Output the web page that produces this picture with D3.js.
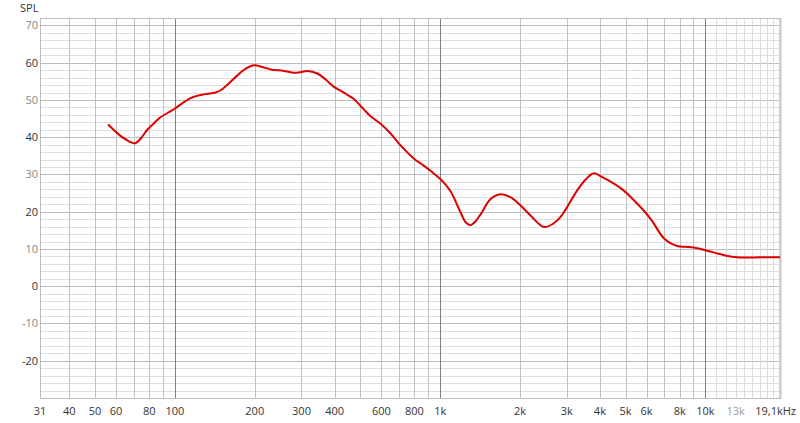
<!DOCTYPE html>
<html>
<head>
<meta charset="utf-8">
<script src="https://cdn.jsdelivr.net/npm/d3@7"></script>
<style>
  body { margin: 0; background: #fff; }
  svg text { font-family: "Open Sans", sans-serif; font-size: 11px; }
</style>
</head>
<body>
<svg id="chart"></svg>
<script>
// measured frequency response
let freqs = [56, 62, 66, 68.5, 71, 74.2, 78.7, 84, 88, 96.4, 100, 114.6, 128.6, 142.4, 148.7, 160, 171.9, 185, 198.6, 215, 229.5, 257.6, 281, 300, 315.6, 344.5, 370, 397.8, 421, 446.6, 473.4, 516.5, 546.5, 596, 650, 709, 795, 850, 919, 1003, 1050, 1100, 1194, 1250, 1300, 1350, 1420, 1549, 1689, 1840, 2000, 2190, 2460, 2680, 2843, 3013, 3290, 3550, 3800, 4100, 4500, 4900, 5300, 5840, 6300, 6970, 7820, 8400, 9030, 10450, 11100, 12000, 13200, 14900, 17000, 19100];
let spl = [43.4, 40.5, 39.2, 38.6, 38.4, 39.6, 42.0, 44.0, 45.3, 47.0, 47.7, 50.5, 51.5, 52.0, 52.6, 54.5, 56.6, 58.4, 59.3, 58.8, 58.2, 57.8, 57.3, 57.5, 57.8, 57.1, 55.5, 53.5, 52.5, 51.4, 50.2, 47.4, 45.6, 43.6, 41.0, 37.8, 34.3, 32.8, 31.0, 28.7, 27.2, 25.2, 19.8, 17.1, 16.4, 17.2, 19.3, 23.4, 24.7, 23.9, 21.8, 19.0, 15.9, 16.9, 18.6, 21.3, 25.8, 28.8, 30.3, 29.2, 27.6, 25.8, 23.5, 20.4, 17.5, 12.9, 10.8, 10.6, 10.4, 9.3, 8.8, 8.2, 7.8, 7.7, 7.8, 7.8];

let xTicks = [31, 40, 50, 60, 80, 100, 200, 300, 400, 600, 800, 1000, 2000, 3000, 4000, 5000, 6000, 8000, 10000, 13000, 19100];
let xLabels = ["31", "40", "50", "60", "80", "100", "200", "300", "400", "600", "800", "1k", "2k", "3k", "4k", "5k", "6k", "8k", "10k", "13k", "19,1kHz"];
let yTicks = [70, 60, 50, 40, 30, 20, 10, 0, -10, -20];

let width = 800, height = 423;
let margin = ({top: 18, right: 20, bottom: 25, left: 40});

let x = d3.scaleLog()
  .domain([31, 19100])
  .range([margin.left, width - margin.right]);

let y = d3.scaleLinear()
  .domain([-30, 72])
  .range([height - margin.bottom, margin.top]);

const svg = d3.select('#chart').attr('width', width).attr('height', height);

// horizontal grid, every 2 dB
let hLines = d3.range(-28, 72, 2);
svg.append('g').selectAll('line')
  .data(hLines)
  .join('line')
  .attr('x1', margin.left).attr('x2', width - margin.right)
  .attr('y1', d => Math.round(y(d)) + 0.5).attr('y2', d => Math.round(y(d)) + 0.5)
  .attr('stroke', d => d % 10 === 0 ? '#bdbdbd' : '#dedede')
  .attr('stroke-width', 1);

// vertical grid
let vLines = [];
[10, 100, 1000].forEach(dec => {
  for (let k = 1; k <= 9; k++) {
    let f = dec * k;
    if (f > 31) vLines.push(f);
  }
});
vLines.push(10000);
for (let k = 11; k <= 19; k++) vLines.push(k * 1000);

svg.append('g').selectAll('line')
  .data(vLines)
  .join('line')
  .attr('x1', d => Math.round(x(d)) + 0.5).attr('x2', d => Math.round(x(d)) + 0.5)
  .attr('y1', margin.top).attr('y2', height - margin.bottom)
  .attr('stroke', d => (d === 100 || d === 1000 || d === 10000) ? '#808080' : (d > 10000 ? '#dcdcdc' : '#c0c0c0'))
  .attr('stroke-width', 1);

// frame
svg.append('rect')
  .attr('x', margin.left + 0.5).attr('y', margin.top + 0.5)
  .attr('width', width - margin.left - margin.right)
  .attr('height', height - margin.top - margin.bottom)
  .attr('fill', 'none')
  .attr('stroke', '#bdbdbd');
svg.append('line')
  .attr('x1', width - margin.right + 0.5).attr('x2', width - margin.right + 0.5)
  .attr('y1', margin.top).attr('y2', height - margin.bottom)
  .attr('stroke', '#c8c8c8').attr('stroke-width', 2);

// y labels
svg.append('g').selectAll('text')
  .data(yTicks)
  .join('text')
  .attr('x', 38)
  .attr('y', d => y(d))
  .attr('dy', '0.36em')
  .attr('text-anchor', 'end')
  .attr('fill', d => d % 20 === 0 ? '#333' : '#888')
  .text(d => d);

// x labels
svg.append('g').selectAll('text')
  .data(xTicks)
  .join('text')
  .attr('x', (d, i) => i === xTicks.length - 1 ? 796 : x(d))
  .attr('y', 415)
  .attr('text-anchor', (d, i) => i === xTicks.length - 1 ? 'end' : 'middle')
  .attr('fill', d => d === 13000 ? '#999' : '#333')
  .text((d, i) => xLabels[i]);

svg.append('text')
  .attr('x', 20).attr('y', 12)
  .attr('fill', '#333')
  .text('SPL');

// response curve
let line = d3.line()
  .x(d => x(d[0]))
  .y(d => y(d[1]))
  .curve(d3.curveCatmullRom.alpha(0.5));

svg.append('path')
  .datum(d3.zip(freqs, spl))
  .attr('d', line)
  .attr('fill', 'none')
  .attr('stroke', '#dd0000')
  .attr('stroke-width', 2)
  .attr('stroke-linejoin', 'round');
</script>
</body>
</html>
